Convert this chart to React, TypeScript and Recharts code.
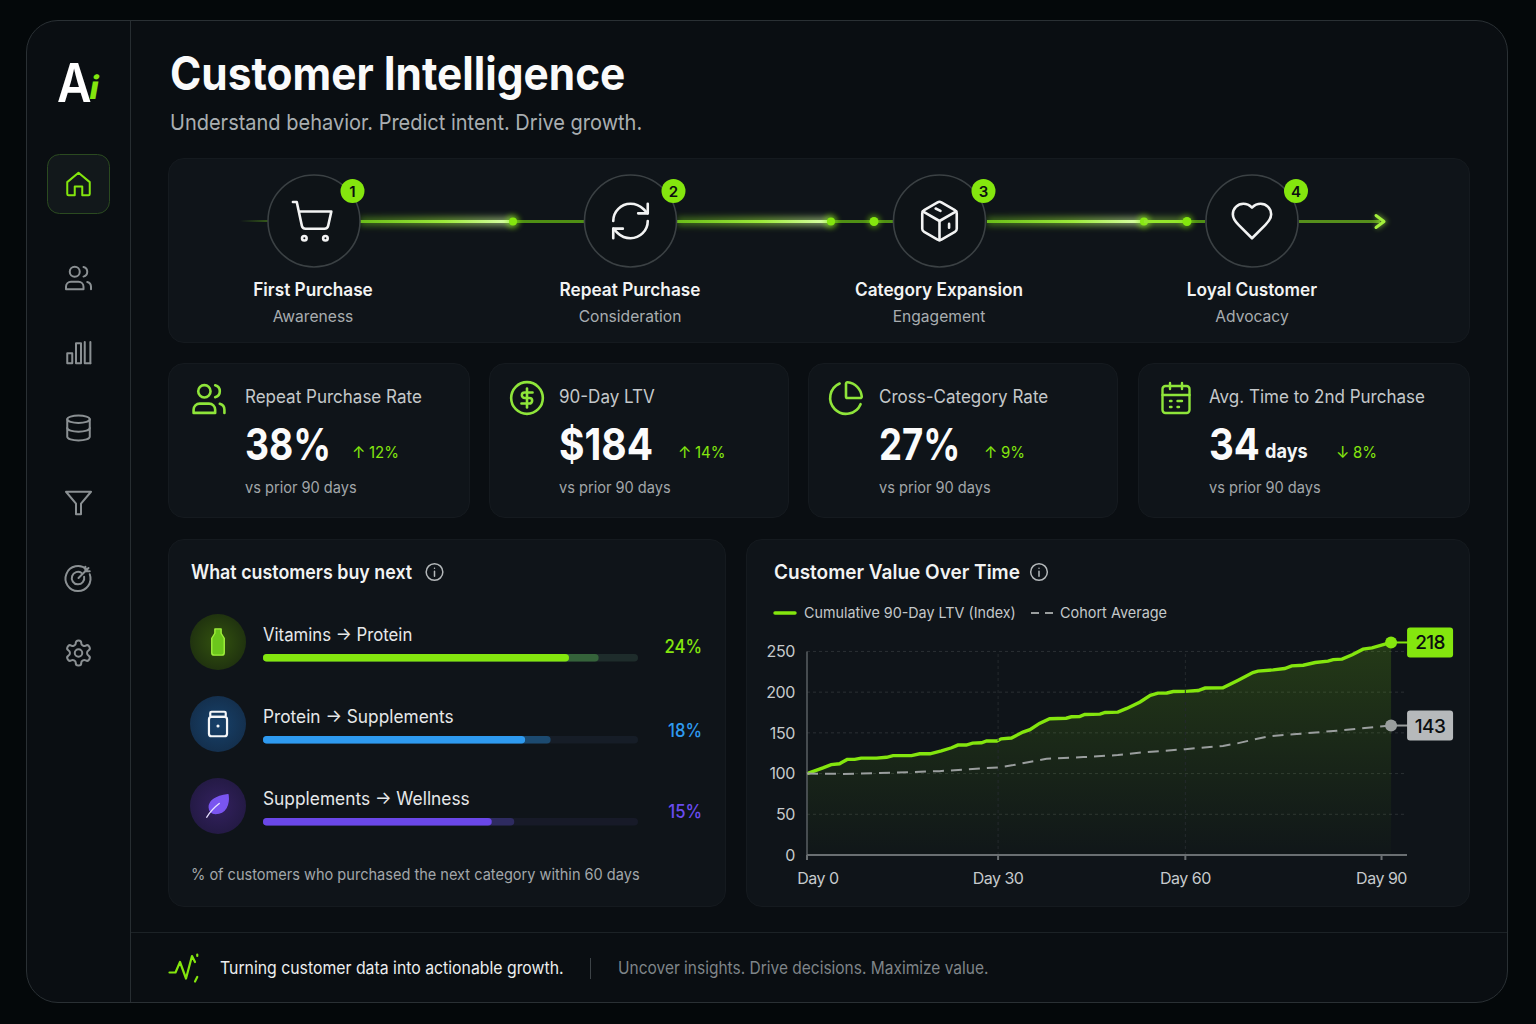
import type { CSSProperties, ReactNode } from 'react';
import {
  Area,
  Bar,
  BarChart,
  CartesianGrid,
  Cell,
  ComposedChart,
  Line,
  ReferenceLine,
  XAxis,
  YAxis,
} from 'recharts';

// Customer value chart
const ltvDays = [
  0, 2.5, 3.8, 5.1, 6.3, 7.5, 8.5, 10.9, 12.5, 13.5, 16.4, 17.7, 19.3, 21.1, 22.7, 23.7, 25, 26, 27.4, 28.2, 29.8,
  30.5, 32.1, 33.9, 35, 36.5, 38.1, 40.7, 41.5, 42.8, 43.6, 46, 46.8, 48.8, 50.2, 52.3, 53.9, 55.1, 56.5, 57.5, 59.4,
  61.4, 62.5, 65.3, 67.7, 70, 70.8, 73.2, 75, 76.1, 77.9, 79.8, 81.8, 82.6, 84, 85.6, 87.3, 88.7, 91.7,
];
const ltvValues = [
  100, 107, 111, 112, 117.4, 117.4, 119, 119, 120, 122, 122, 124.3, 124.3, 128, 131.7, 135, 135, 137.4, 137.8, 140, 140,
  142.7, 143.6, 151, 154, 161.6, 167.3, 168, 169.7, 170, 172.6, 173, 175, 175.5, 180, 188, 196, 198.8, 199, 200.8, 201,
  202, 205, 205.3, 214.7, 224, 225.8, 227.4, 229, 232.3, 233, 236.4, 238, 240, 240.5, 246, 252.8, 254.4, 261,
];
const cohortDays = [0, 5.7, 13.5, 20.8, 30, 32.4, 34.5, 37.6, 43.4, 48.8, 52.7, 59.4, 65.3, 67.5, 70, 72.7, 76.9, 83.2, 91.7];
const cohortValues = [100, 99.6, 101, 103, 107.6, 110.4, 113.7, 118.2, 120.2, 122.7, 126, 130, 134, 137, 141.5, 146, 148.5, 152.6, 159];
const yTicks = [0, 50, 100, 150, 200, 250];
const xTicks = [0, 30, 59.4, 90.2];
const xTickLabels = ['Day 0', 'Day 30', 'Day 60', 'Day 90'];
const ltvEndLabel = '218';
const cohortEndLabel = '143';

// "What customers buy next" bars, as share of the track length
const nextPaths = ['Vitamins → Protein', 'Protein → Supplements', 'Supplements → Wellness'];
const nextPercents = ['24%', '18%', '15%'];
const nextFill = [81.6, 69.9, 61];
const nextSoft = [89.5, 76.7, 67];
const nextTrack = [100, 100, 100];

const stageNames = ['First Purchase', 'Repeat Purchase', 'Category Expansion', 'Loyal Customer'];
const stageSubs = ['Awareness', 'Consideration', 'Engagement', 'Advocacy'];

const LIME = '#84e60e';
const FONT = 'Inter, "Noto Sans", sans-serif';

const ltvData = ltvDays.map((day, i) => ({ day, ltv: ltvValues[i] }));
const cohortData = cohortDays.map((day, i) => ({ day, cohort: cohortValues[i] }));
const nextData = nextPaths.map((path, i) => ({
  path,
  track: nextTrack[i],
  soft: nextSoft[i],
  fill: nextFill[i],
}));

const ICONS: Record<string, ReactNode> = {
  home: <path d="M3 10.5 12 3l9 7.5V20a1 1 0 0 1-1 1h-5v-7H9v7H4a1 1 0 0 1-1-1z" />,
  users: (
    <>
      <path d="M16 21v-2a4 4 0 0 0-4-4H6a4 4 0 0 0-4 4v2z" />
      <circle cx="9" cy="7" r="4" />
      <path d="M22 21v-2a4 4 0 0 0-3-3.87" />
      <path d="M16 3.13a4 4 0 0 1 0 7.75" />
    </>
  ),
  bars: (
    <>
      <rect x="3" y="13" width="4" height="8" />
      <rect x="10" y="5" width="4" height="16" />
      <path d="M17 4v17h4.5" />
      <path d="M21.5 4v17" />
    </>
  ),
  db: (
    <>
      <ellipse cx="12" cy="5" rx="9" ry="3" />
      <path d="M3 5V19A9 3 0 0 0 21 19V5" />
      <path d="M3 12A9 3 0 0 0 21 12" />
    </>
  ),
  filter: <polygon points="22 3 2 3 10 12.46 10 21 14 21 14 12.46 22 3" />,
  target: (
    <>
      <path d="M18.5 5.2A10 10 0 1 0 21 9" />
      <path d="M14.5 8A5 5 0 1 0 16.5 11" />
      <path d="M12 12 20 4M17.5 3v3.5H21" />
    </>
  ),
  gear: (
    <>
      <path d="M12.22 2h-.44a2 2 0 0 0-2 2v.18a2 2 0 0 1-1 1.73l-.43.25a2 2 0 0 1-2 0l-.15-.08a2 2 0 0 0-2.73.73l-.22.38a2 2 0 0 0 .73 2.73l.15.1a2 2 0 0 1 1 1.72v.51a2 2 0 0 1-1 1.74l-.15.09a2 2 0 0 0-.73 2.73l.22.38a2 2 0 0 0 2.73.73l.15-.08a2 2 0 0 1 2 0l.43.25a2 2 0 0 1 1 1.73V20a2 2 0 0 0 2 2h.44a2 2 0 0 0 2-2v-.18a2 2 0 0 1 1-1.73l.43-.25a2 2 0 0 1 2 0l.15.08a2 2 0 0 0 2.73-.73l.22-.39a2 2 0 0 0-.73-2.73l-.15-.08a2 2 0 0 1-1-1.74v-.5a2 2 0 0 1 1-1.74l.15-.09a2 2 0 0 0 .73-2.73l-.22-.38a2 2 0 0 0-2.73-.73l-.15.08a2 2 0 0 1-2 0l-.43-.25a2 2 0 0 1-1-1.73V4a2 2 0 0 0-2-2z" />
      <circle cx="12" cy="12" r="3" />
    </>
  ),
  cart: (
    <>
      <circle cx="8" cy="21" r="1.2" />
      <circle cx="19" cy="21" r="1.2" />
      <path d="M2.05 2.05h2l2.66 12.42a2 2 0 0 0 2 1.58h9.78a2 2 0 0 0 1.95-1.57l1.65-7.43H5.12" />
    </>
  ),
  refresh: (
    <>
      <path d="M3 12a9 9 0 0 1 9-9 9.75 9.75 0 0 1 6.74 2.74L21 8" />
      <path d="M21 3v5h-5" />
      <path d="M21 12a9 9 0 0 1-9 9 9.75 9.75 0 0 1-6.74-2.74L3 16" />
      <path d="M8 16H3v5" />
    </>
  ),
  box: (
    <>
      <path d="M21 8a2 2 0 0 0-1-1.73l-7-4a2 2 0 0 0-2 0l-7 4A2 2 0 0 0 3 8v8a2 2 0 0 0 1 1.73l7 4a2 2 0 0 0 2 0l7-4A2 2 0 0 0 21 16Z" />
      <path d="m3.3 7 8.7 5 8.7-5" />
      <path d="M12 22V12" />
      <path d="M10 5.5l2.5 1.2M17 13.5v2" />
    </>
  ),
  heart: (
    <path d="M19 14c1.49-1.46 3-3.21 3-5.5A5.5 5.5 0 0 0 16.5 3c-1.76 0-3 .5-4.5 2-1.5-1.5-2.74-2-4.5-2A5.5 5.5 0 0 0 2 8.5c0 2.3 1.5 4.05 3 5.5l7 7Z" />
  ),
  dollar: (
    <>
      <circle cx="12" cy="12" r="10" />
      <path d="M15.5 8.5h-5a1.75 1.75 0 1 0 0 3.5h3a1.75 1.75 0 1 1 0 3.5h-5" />
      <path d="M12 18V6" />
    </>
  ),
  pie: (
    <>
      <path d="M21 12c.552 0 1.005-.449.95-.998a10 10 0 0 0-8.953-8.951c-.55-.055-.998.398-.998.95v8a1 1 0 0 0 1 1z" />
      <path d="M21.21 15.89A10 10 0 1 1 8 2.83" />
    </>
  ),
  calendar: (
    <>
      <path d="M8 2v4M16 2v4" />
      <rect x="3" y="4" width="18" height="18" rx="2" />
      <path d="M3 10h18M8 14h1M13 14h3M8 18h1M13 18h1" />
    </>
  ),
  info: (
    <>
      <circle cx="12" cy="12" r="10" />
      <path d="M12 17v-6M12 7.5h.01" />
    </>
  ),
  pulse: <path d="M1 15h4l3-7 4 11 4-15 2 4M19.5 3v1M18 21l1.5-3" />,
  bottle: (
    <path
      d="M9.5 1.5h5V5l2.5 4v11.5a2 2 0 0 1-2 2H9a2 2 0 0 1-2-2V9l2.5-4z"
      fill="#6cc61c"
    />
  ),
  jar: (
    <>
      <rect x="6" y="2.5" width="12" height="4" rx="1" />
      <rect x="5" y="6.5" width="14" height="15" rx="2" />
      <path d="M12 13.5h.01" strokeWidth="2.4" />
    </>
  ),
  leaf: (
    <>
      <path d="M20 3c1 8-2 15-10 15-3 0-5-2-5-5 0-7 8-9 15-10z" fill="#7a55f0" stroke="#7a55f0" />
      <path d="M3 21c3-5 6-8 10-11" stroke="#e6e0ff" />
    </>
  ),
};

function Icon({
  name,
  cx,
  cy,
  size,
  color,
  sw = 2,
}: {
  name: string;
  cx: number;
  cy: number;
  size: number;
  color: string;
  sw?: number;
}) {
  const k = size / 24;
  return (
    <g
      transform={`translate(${cx - size / 2} ${cy - size / 2}) scale(${k})`}
      fill="none"
      stroke={color}
      strokeWidth={sw / k}
      strokeLinecap="round"
      strokeLinejoin="round"
    >
      {ICONS[name]}
    </g>
  );
}

// sx squeezes the glyphs: the reference font runs a bit narrower than Inter
function T({
  x,
  y,
  size,
  color = '#e8eaeb',
  w = 400,
  sx = 1,
  align = 'left',
  style,
  children,
}: {
  x: number;
  y: number;
  size: number;
  color?: string;
  w?: number;
  sx?: number;
  align?: 'left' | 'center' | 'right';
  style?: CSSProperties;
  children: ReactNode;
}) {
  const tx = align === 'center' ? '-50%' : align === 'right' ? '-100%' : '0';
  return (
    <div
      style={{
        position: 'absolute',
        left: x,
        top: y,
        transform: `translate(${tx}, -50%) scaleX(${sx})`,
        transformOrigin: align,
        fontSize: size,
        fontWeight: w,
        color,
        lineHeight: 1.2,
        whiteSpace: 'nowrap',
        ...style,
      }}
    >
      {children}
    </div>
  );
}

function Card({ x, y, w, h, r = 16 }: { x: number; y: number; w: number; h: number; r?: number }) {
  return (
    <div
      style={{
        position: 'absolute',
        left: x,
        top: y,
        width: w,
        height: h,
        boxSizing: 'border-box',
        borderRadius: r,
        background: '#0f1419',
        border: '1px solid #151a1f',
      }}
    />
  );
}

function EndDot(props: any, count: number, color: string, badge: string, text: string) {
  const { cx, cy, index } = props;
  if (index !== count - 1) return <g key={index} />;
  const top = cy - 15;
  return (
    <g key={index}>
      <line x1={cx} y1={cy} x2={cx + 18} y2={cy} stroke={color} strokeWidth={2} />
      <circle cx={cx} cy={cy} r={6} fill={color} />
      <rect x={cx + 16} y={top} width={46} height={30} rx={3} fill={badge} />
      <text x={cx + 39} y={cy + 7} textAnchor="middle" fontSize={19} fontWeight={500} letterSpacing={-0.6} fontFamily={FONT} fill="#0b0e10">
        {text}
      </text>
    </g>
  );
}

function XTick({ x, y, payload, index }: any) {
  // first label sits to the right of the axis origin in the reference
  const shift = index === 0 ? 11 : 0;
  return (
    <text x={x + shift} y={y + 22} textAnchor="middle" fontSize={16} letterSpacing={-0.5} fontFamily={FONT} fill="#c6cacc">
      {xTickLabels[xTicks.indexOf(payload.value)]}
    </text>
  );
}

function ValueChart() {
  return (
    <ComposedChart
      width={715}
      height={275}
      margin={{ top: 7, right: 58, left: 7, bottom: 10 }}
      style={{ position: 'absolute', left: 750, top: 620 }}
    >
      <defs>
        <linearGradient id="ltvFill" x1="0" y1="0" x2="0" y2="1">
          <stop offset="0%" stopColor={LIME} stopOpacity={0.3} />
          <stop offset="55%" stopColor={LIME} stopOpacity={0.14} />
          <stop offset="100%" stopColor={LIME} stopOpacity={0.02} />
        </linearGradient>
      </defs>
      <CartesianGrid stroke="#2b3034" strokeDasharray="3 3" vertical={false} horizontalValues={[50, 100, 150, 200, 250]} />
      <ReferenceLine
        segment={[
          { x: 30, y: 0 },
          { x: 30, y: 250 },
        ]}
        stroke="#252a2e"
        strokeDasharray="3 3"
      />
      <ReferenceLine
        segment={[
          { x: 59.4, y: 0 },
          { x: 59.4, y: 250 },
        ]}
        stroke="#252a2e"
        strokeDasharray="3 3"
      />
      <XAxis
        type="number"
        dataKey="day"
        domain={[0, 94.2]}
        ticks={xTicks}
        interval={0}
        height={30}
        stroke="#6a6f72"
        strokeWidth={2}
        tickSize={5}
        tick={<XTick />}
      />
      <YAxis
        type="number"
        domain={[0, 280]}
        ticks={yTicks}
        interval={0}
        width={50}
        axisLine={false}
        tickLine={false}
        tickMargin={6}
        tick={{ fontSize: 16, fontFamily: FONT, fill: '#c6cacc', letterSpacing: -0.4 }}
      />
      <ReferenceLine
        segment={[
          { x: 0, y: 0 },
          { x: 0, y: 250 },
        ]}
        stroke="#5a5f63"
        strokeWidth={1.5}
      />
      <Area
        data={ltvData}
        dataKey="ltv"
        type="linear"
        stroke={LIME}
        strokeWidth={3.4}
        fill="url(#ltvFill)"
        isAnimationActive={false}
        dot={(p: any) => EndDot(p, ltvData.length, LIME, LIME, ltvEndLabel)}
        activeDot={false}
      />
      <Line
        data={cohortData}
        dataKey="cohort"
        type="linear"
        stroke="#9a9e9e"
        strokeWidth={2}
        strokeDasharray="11 7"
        isAnimationActive={false}
        dot={(p: any) => EndDot(p, cohortData.length, '#9a9e9e', '#b6b9bb', cohortEndLabel)}
        activeDot={false}
      />
    </ComposedChart>
  );
}

const barFillColors = ['#84e60e', '#2e9af0', '#6a47e8'];
const barSoftColors = ['#35633a', '#1c4a70', '#2e2b60'];
const barTrackColors = ['#1e2c2b', '#161d27', '#171a28'];
const pctColors = ['#84e60e', '#2e9af0', '#6a4cf0'];

function NextChart() {
  return (
    <BarChart
      width={375}
      height={246}
      layout="vertical"
      data={nextData}
      margin={{ top: 0, right: 0, left: 0, bottom: 0 }}
      barSize={7.5}
      barGap={-7.5}
      style={{ position: 'absolute', left: 263, top: 617 }}
    >
      <XAxis type="number" domain={[0, 100]} hide />
      <YAxis type="category" dataKey="path" hide />
      <Bar dataKey="track" radius={4} isAnimationActive={false}>
        {nextData.map((d, i) => (
          <Cell key={d.path} fill={barTrackColors[i]} />
        ))}
      </Bar>
      <Bar dataKey="soft" radius={4} isAnimationActive={false}>
        {nextData.map((d, i) => (
          <Cell key={d.path} fill={barSoftColors[i]} />
        ))}
      </Bar>
      <Bar dataKey="fill" radius={4} isAnimationActive={false}>
        {nextData.map((d, i) => (
          <Cell key={d.path} fill={barFillColors[i]} />
        ))}
      </Bar>
    </BarChart>
  );
}

const stageX = [313, 630, 939, 1252];
const circleX = [314, 630.5, 939.5, 1252];
const stageIcons = ['cart', 'refresh', 'box', 'heart'];
const badgeX = [352.5, 673.5, 983.5, 1296];
const segments = [
  [360, 513, 584],
  [677, 831, 893],
  [987, 1144, 1205],
];
const extraDots = [874, 1187];

function Decor() {
  return (
    <svg width={1536} height={1024} style={{ position: 'absolute', left: 0, top: 0 }}>
      <defs>
        <filter id="blur3" x="-20%" y="-500%" width="140%" height="1100%">
          <feGaussianBlur stdDeviation="3" />
        </filter>
        <filter id="blur2" x="-100%" y="-100%" width="300%" height="300%">
          <feGaussianBlur stdDeviation="2.5" />
        </filter>
        <linearGradient id="flow" x1="0" x2="1" y1="0" y2="0">
          <stop offset="0%" stopColor="#6fc41a" stopOpacity={0.8} />
          <stop offset="55%" stopColor="#9cea3c" />
          <stop offset="100%" stopColor="#dcffae" />
        </linearGradient>
        <linearGradient id="lead" x1="0" x2="1" y1="0" y2="0">
          <stop offset="0%" stopColor="#5fa81a" stopOpacity={0} />
          <stop offset="100%" stopColor="#5fa81a" stopOpacity={0.5} />
        </linearGradient>
        <radialGradient id="greenDisc">
          <stop offset="0%" stopColor="#33520f" />
          <stop offset="100%" stopColor="#20330f" />
        </radialGradient>
        <radialGradient id="blueDisc">
          <stop offset="0%" stopColor="#17416a" />
          <stop offset="100%" stopColor="#14304e" />
        </radialGradient>
        <radialGradient id="purpleDisc">
          <stop offset="0%" stopColor="#33215f" />
          <stop offset="100%" stopColor="#241a45" />
        </radialGradient>
      </defs>

      {/* sidebar */}
      <rect x={47.5} y={154.5} width={62} height={59} rx={12} fill="#12181b" stroke="#2b4a20" />
      <Icon name="home" cx={78.5} cy={184} size={30} color={LIME} />
      <Icon name="users" cx={78.5} cy={278} size={30} color="#8b9093" />
      <Icon name="bars" cx={78.5} cy={352} size={30} color="#8b9093" />
      <Icon name="db" cx={78.5} cy={428} size={30} color="#8b9093" />
      <Icon name="filter" cx={78.5} cy={503} size={30} color="#8b9093" />
      <Icon name="target" cx={78.5} cy={578} size={30} color="#8b9093" />
      <Icon name="gear" cx={78.5} cy={653} size={30} color="#8b9093" />

      {/* journey line */}
      <rect x={240} y={220} width={30} height={2} fill="url(#lead)" />
      {segments.map(([a, b, c]) => (
        <g key={a}>
          <line x1={a} y1={221.5} x2={c} y2={221.5} stroke="#4f8f14" strokeWidth={3} />
          <rect x={a} y={217} width={b - a} height={9} fill="url(#flow)" opacity={0.55} filter="url(#blur3)" />
          <rect x={a} y={220} width={b - a} height={3} fill="url(#flow)" />
          <circle cx={b} cy={221.5} r={7} fill={LIME} opacity={0.5} filter="url(#blur2)" />
          <circle cx={b} cy={221.5} r={4} fill={LIME} />
        </g>
      ))}
      <rect x={1144} y={217} width={43} height={9} fill="#a6f04a" opacity={0.4} filter="url(#blur3)" />
      <line x1={1144} y1={221.5} x2={1187} y2={221.5} stroke="#94e62c" strokeWidth={3} />
      <line x1={1299} y1={221.5} x2={1380} y2={221.5} stroke="#568f1c" strokeWidth={3} />
      <path d="M1376 215.5 1384 221.5 1376 227.5" fill="none" stroke="#a4f03c" strokeWidth={5} opacity={0.5} filter="url(#blur2)" />
      <path d="M1376 215.5 1384 221.5 1376 227.5" fill="none" stroke="#a4f03c" strokeWidth={3} strokeLinecap="round" strokeLinejoin="round" />
      {extraDots.map((x) => (
        <g key={x}>
          <circle cx={x} cy={221.5} r={7} fill={LIME} opacity={0.4} filter="url(#blur2)" />
          <circle cx={x} cy={221.5} r={4.5} fill={LIME} />
        </g>
      ))}

      {circleX.map((x, i) => (
        <g key={x}>
          <circle cx={x} cy={221} r={46} fill="#0e1317" stroke="#3b4144" strokeWidth={1.6} />
          <Icon name={stageIcons[i]} cx={i === 0 ? x - 2 : x} cy={221} size={46} color="#f2f3f3" sw={2.6} />
          <circle cx={badgeX[i]} cy={191} r={12} fill={LIME} />
          <text x={badgeX[i]} y={196.5} textAnchor="middle" fontSize={15} fontWeight={600} fontFamily={FONT} fill="#0b0e10">
            {i + 1}
          </text>
        </g>
      ))}

      {/* kpi icons */}
      <Icon name="users" cx={209} cy={399} size={37} color="#8fe53a" sw={2.6} />
      <Icon name="dollar" cx={527} cy={398} size={38} color="#8fe53a" sw={2.6} />
      <Icon name="pie" cx={846} cy={398} size={38} color="#8fe53a" sw={2.6} />
      <Icon name="calendar" cx={1176} cy={398} size={36} color="#8fe53a" sw={2.4} />

      <Icon name="info" cx={434.5} cy={572} size={20} color="#b4b8ba" sw={1.5} />
      <Icon name="info" cx={1039} cy={572} size={20} color="#b4b8ba" sw={1.5} />

      {/* next category discs */}
      <circle cx={218} cy={642} r={28} fill="url(#greenDisc)" />
      <Icon name="bottle" cx={218} cy={642} size={30} color="#a0f03c" sw={1.4} />
      <circle cx={218} cy={724} r={28} fill="url(#blueDisc)" />
      <Icon name="jar" cx={218} cy={724} size={31} color="#f4f6f8" sw={2.2} />
      <circle cx={218} cy={806} r={28} fill="url(#purpleDisc)" />
      <Icon name="leaf" cx={218} cy={806} size={30} color="#7a55f0" sw={1.4} />

      {/* legend keys */}
      <line x1={775} y1={613} x2={795} y2={613} stroke={LIME} strokeWidth={3.4} strokeLinecap="round" />
      <line x1={1031} y1={613} x2={1053} y2={613} stroke="#9a9e9e" strokeWidth={2} strokeDasharray="8 6" />

      {/* footer */}
      <Icon name="pulse" cx={186} cy={968} size={36} color={LIME} sw={2.2} />
      <line x1={590.5} y1={958} x2={590.5} y2={979} stroke="#3d4347" />
    </svg>
  );
}

function Kpi({
  x,
  title,
  value,
  valueSx,
  unit,
  deltaX,
  delta,
  down,
}: {
  x: number;
  title: string;
  value: string;
  valueSx: number;
  unit?: string;
  deltaX: number;
  delta: string;
  down?: boolean;
}) {
  return (
    <>
      <T x={x} y={397} size={18} sx={0.945} color="#c4c8ca">
        {title}
      </T>
      <T x={x} y={444} size={44} w={700} sx={valueSx} color="#fbfbfb">
        {value}
      </T>
      {unit && (
        <T x={x + 56} y={452} size={19.5} w={700} sx={0.93} color="#f4f5f5">
          {unit}
        </T>
      )}
      <T x={deltaX} y={453} size={16} color={LIME}>
        {down ? '↓' : '↑'}
      </T>
      <T x={deltaX + 17} y={453} size={16} sx={0.935} color={LIME}>
        {delta}
      </T>
      <T x={x} y={488} size={15.5} sx={0.941} color="#a2a7aa">
        vs prior 90 days
      </T>
    </>
  );
}

export default function App() {
  return (
    <div
      style={{
        position: 'absolute',
        left: 0,
        top: 0,
        width: 1536,
        height: 1024,
        overflow: 'hidden',
        background: '#04080a',
        fontFamily: FONT,
      }}
    >
      {/* frame */}
      <div
        style={{
          position: 'absolute',
          left: 26,
          top: 20,
          width: 1482,
          height: 983,
          boxSizing: 'border-box',
          borderRadius: 32,
          background: '#0a0e12',
          border: '1.5px solid #2a3034',
        }}
      />
      <div style={{ position: 'absolute', left: 130, top: 21, width: 1, height: 981, background: '#272d31' }} />
      <div style={{ position: 'absolute', left: 131, top: 932, width: 1376, height: 1, background: '#1c2226' }} />

      {/* logo */}
      <T x={57} y={83} size={54} w={600} sx={0.88} color="#ffffff">
        A
      </T>
      <T x={90} y={88} size={32} w={800} color={LIME} style={{ transform: 'translate(0,-50%) skewX(-10deg)' }}>
        i
      </T>

      <T x={170} y={74} size={46} w={700} sx={0.921} color="#fafafa">
        Customer Intelligence
      </T>
      <T x={170} y={122} size={22} sx={0.909} color="#a9aeb1">
        Understand behavior. Predict intent. Drive growth.
      </T>

      <Card x={168} y={158} w={1302} h={185} />
      <Card x={168} y={363} w={302} h={155} />
      <Card x={489} y={363} w={300} h={155} />
      <Card x={808} y={363} w={310} h={155} />
      <Card x={1138} y={363} w={332} h={155} />
      <Card x={168} y={539} w={558} h={368} />
      <Card x={746} y={539} w={724} h={368} />

      <NextChart />
      <ValueChart />
      <Decor />

      {stageNames.map((name, i) => (
        <div key={name}>
          <T x={stageX[i]} y={289.5} size={18} w={600} sx={0.957} color="#f2f3f3" align="center">
            {name}
          </T>
          <T x={stageX[i]} y={316.5} size={16} sx={0.975} color="#a8adb0" align="center">
            {stageSubs[i]}
          </T>
        </div>
      ))}

      <Kpi x={245} title="Repeat Purchase Rate" value="38%" valueSx={0.847} deltaX={352} delta="12%" />
      <Kpi x={559} title="90-Day LTV" value="$184" valueSx={0.886} deltaX={678} delta="14%" />
      <Kpi x={879} title="Cross-Category Rate" value="27%" valueSx={0.83} deltaX={984} delta="9%" />
      <Kpi x={1209} title="Avg. Time to 2nd Purchase" value="34" valueSx={0.875} unit="days" deltaX={1336} delta="8%" down />

      <T x={191} y={572} size={20} w={600} sx={0.892} color="#f2f3f3">
        What customers buy next
      </T>
      {nextPaths.map((path, i) => (
        <div key={path}>
          <T x={263} y={634.5 + i * 82} size={18} sx={[0.931, 0.96, 0.963][i]} color="#e6e8e9">
            {path}
          </T>
          <T x={702} y={[645.5, 729.5, 810.5][i]} size={18.5} w={500} sx={0.9} color={pctColors[i]} align="right">
            {nextPercents[i]}
          </T>
        </div>
      ))}
      <T x={191} y={875} size={15.5} sx={0.939} color="#a2a7aa">
        % of customers who purchased the next category within 60 days
      </T>

      <T x={774} y={572} size={20} w={600} sx={0.95} color="#f2f3f3">
        Customer Value Over Time
      </T>
      <T x={804} y={613} size={15} sx={0.955} color="#c4c8ca">
        Cumulative 90-Day LTV (Index)
      </T>
      <T x={1060} y={613} size={15} sx={0.964} color="#c4c8ca">
        Cohort Average
      </T>

      <T x={220} y={968} size={17} sx={0.93} color="#eceeef">
        Turning customer data into actionable growth.
      </T>
      <T x={618} y={968} size={17} sx={0.911} color="#7f8589">
        Uncover insights. Drive decisions. Maximize value.
      </T>
    </div>
  );
}
